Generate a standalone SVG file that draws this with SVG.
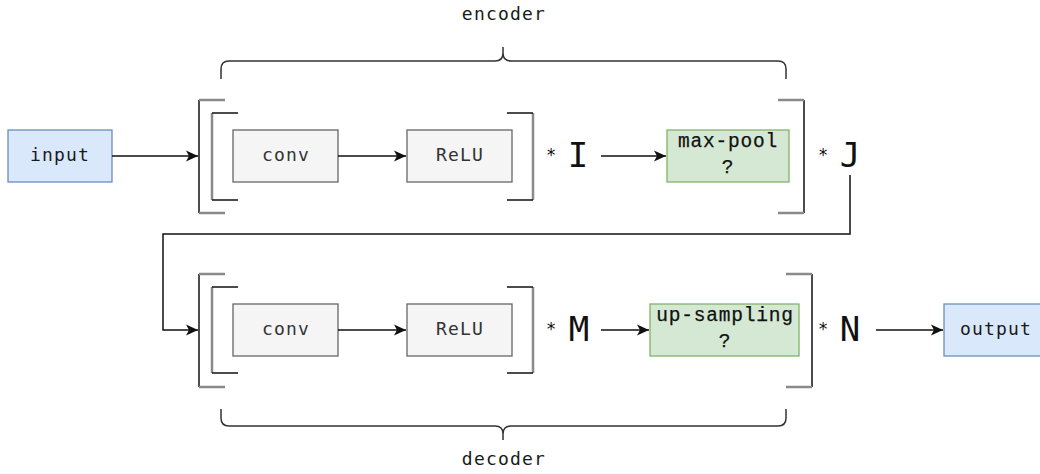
<svg xmlns="http://www.w3.org/2000/svg" width="1040" height="474" viewBox="0 0 1040 474">
<style>
.bg{fill:#ffffff}
.blue{fill:#dae8fc;stroke:#6c8ebf;stroke-width:1.3}
.grey{fill:#f5f5f5;stroke:#666666;stroke-width:1.3}
.green{fill:#d5e8d4;stroke:#82b366;stroke-width:1.3}
.lbl{font-family:"DejaVu Sans Mono",monospace;font-size:18px;letter-spacing:1.2px;text-anchor:middle;fill:#1a1a1a}
.lblg{fill:#333333}
.mono{font-family:"Liberation Mono","Courier New",monospace;font-size:19.5px;letter-spacing:0.8px;text-anchor:middle;fill:#111111;stroke:#111111;stroke-width:0.25}
.big{font-family:"DejaVu Sans Mono",monospace;font-size:34px;text-anchor:middle;fill:#111111}
.star{font-family:"DejaVu Sans Mono",monospace;font-size:17px;text-anchor:middle;fill:#111111}
.conn{fill:none;stroke:#111111;stroke-width:1.5}
.bk{fill:none;stroke:#111111;stroke-width:1.5}
.gy{fill:none;stroke:#8a8a8a;stroke-width:2.5}
.brace{fill:none;stroke:#333333;stroke-width:1.5}
</style>
<defs>
<marker id="arr" viewBox="0 0 12 12" refX="12" refY="6" markerWidth="12" markerHeight="12" markerUnits="userSpaceOnUse" orient="auto">
<path d="M0,0.5 L12,6 L0,11.5 L3,6 Z" fill="#111111"/>
</marker>
</defs>
<rect class="bg" x="0" y="0" width="1040" height="474"/>

<g id="encoder-brace">
<path class="brace" d="M221,79 L221,69 Q221,61 229,61 L495,61 Q503,61 503,53 L503,47 M503,53 Q503,61 511,61 L778,61 Q786,61 786,69 L786,79"/>
<text class="lbl" x="504" y="20">encoder</text>
</g>
<g id="decoder-brace">
<path class="brace" d="M221,409 L221,418 Q221,426 229,426 L495,426 Q503,426 503,434 L503,440 M503,434 Q503,426 511,426 L778,426 Q786,426 786,418 L786,409"/>
<text class="lbl" x="504" y="465">decoder</text>
</g>

<g id="input">
<rect class="blue" x="8" y="130" width="104" height="52"/>
<text class="lbl" x="60" y="161">input</text>
</g>

<g id="enc-outer-bracket">
<line class="bk" x1="199" y1="100" x2="199" y2="213"/>
<line class="gy" x1="199" y1="100" x2="225" y2="100"/>
<line class="gy" x1="199" y1="213" x2="225" y2="213"/>
<line class="bk" x1="804" y1="100" x2="804" y2="213"/>
<line class="gy" x1="778" y1="100" x2="804" y2="100"/>
<line class="gy" x1="778" y1="213" x2="804" y2="213"/>
</g>
<g id="enc-inner-bracket">
<line class="gy" x1="212" y1="113" x2="212" y2="200"/>
<line class="bk" x1="212" y1="113" x2="238" y2="113"/>
<line class="bk" x1="212" y1="200" x2="238" y2="200"/>
<line class="gy" x1="533" y1="113" x2="533" y2="200"/>
<line class="bk" x1="507" y1="113" x2="533" y2="113"/>
<line class="bk" x1="507" y1="200" x2="533" y2="200"/>
</g>

<g id="enc-conv">
<rect class="grey" x="233" y="130" width="105" height="52"/>
<text class="lbl lblg" x="286" y="161">conv</text>
</g>
<g id="enc-relu">
<rect class="grey" x="407" y="130" width="105" height="52"/>
<text class="lbl lblg" x="460" y="161">ReLU</text>
</g>
<g id="enc-I">
<text class="star" x="551" y="161">*</text>
<text class="big" x="578" y="167">I</text>
</g>
<g id="max-pool">
<rect class="green" x="667" y="130" width="122" height="52"/>
<text class="mono" x="728" y="147">max-pool</text>
<text class="mono" x="728" y="173">?</text>
</g>
<g id="enc-J">
<text class="star" x="823" y="161">*</text>
<text class="big" x="850" y="167">J</text>
</g>

<g id="dec-outer-bracket">
<line class="bk" x1="199" y1="274" x2="199" y2="387"/>
<line class="gy" x1="199" y1="274" x2="225" y2="274"/>
<line class="gy" x1="199" y1="387" x2="225" y2="387"/>
<line class="bk" x1="812" y1="274" x2="812" y2="387"/>
<line class="gy" x1="786" y1="274" x2="812" y2="274"/>
<line class="gy" x1="786" y1="387" x2="812" y2="387"/>
</g>
<g id="dec-inner-bracket">
<line class="gy" x1="212" y1="287" x2="212" y2="373"/>
<line class="bk" x1="212" y1="287" x2="238" y2="287"/>
<line class="bk" x1="212" y1="373" x2="238" y2="373"/>
<line class="gy" x1="533" y1="287" x2="533" y2="373"/>
<line class="bk" x1="507" y1="287" x2="533" y2="287"/>
<line class="bk" x1="507" y1="373" x2="533" y2="373"/>
</g>

<g id="dec-conv">
<rect class="grey" x="233" y="304" width="105" height="52"/>
<text class="lbl lblg" x="286" y="335">conv</text>
</g>
<g id="dec-relu">
<rect class="grey" x="407" y="304" width="105" height="52"/>
<text class="lbl lblg" x="460" y="335">ReLU</text>
</g>
<g id="dec-M">
<text class="star" x="551" y="335">*</text>
<text class="big" x="579" y="341">M</text>
</g>
<g id="up-sampling">
<rect class="green" x="650" y="304" width="149" height="52"/>
<text class="mono" x="725" y="321">up-sampling</text>
<text class="mono" x="725" y="347">?</text>
</g>
<g id="dec-N">
<text class="star" x="823" y="335">*</text>
<text class="big" x="850" y="341">N</text>
</g>
<g id="output">
<rect class="blue" x="944" y="304" width="104" height="52"/>
<text class="lbl" x="996" y="335">output</text>
</g>

<g id="connectors">
<line class="conn" x1="112" y1="156" x2="198" y2="156" marker-end="url(#arr)"/>
<line class="conn" x1="338" y1="156" x2="406" y2="156" marker-end="url(#arr)"/>
<line class="conn" x1="601" y1="156" x2="666" y2="156" marker-end="url(#arr)"/>
<polyline class="conn" points="850,175 850,234 163,234 163,330 198,330" marker-end="url(#arr)"/>
<line class="conn" x1="338" y1="330" x2="406" y2="330" marker-end="url(#arr)"/>
<line class="conn" x1="601" y1="330" x2="649" y2="330" marker-end="url(#arr)"/>
<line class="conn" x1="876" y1="330" x2="943" y2="330" marker-end="url(#arr)"/>
</g>
</svg>
